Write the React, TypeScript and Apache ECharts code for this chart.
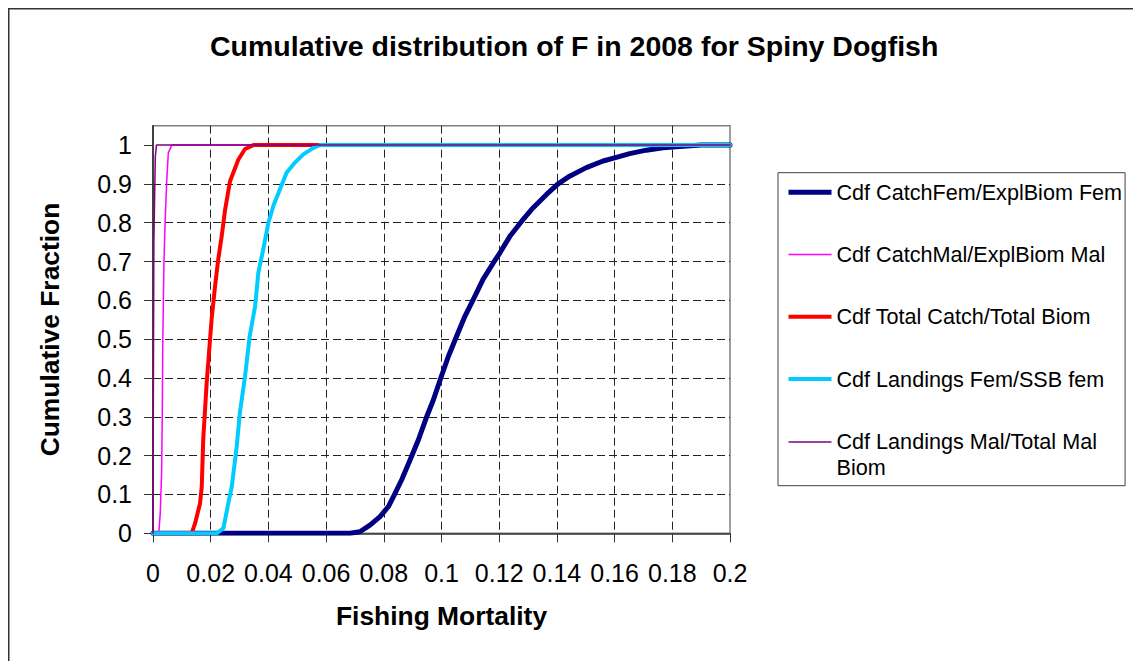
import React, { useEffect, useRef } from "react";
import * as echarts from "echarts";

const TITLE = "Cumulative distribution of F in 2008 for Spiny Dogfish";
const X_NAME = "Fishing Mortality";
const Y_NAME = "Cumulative Fraction";

const seriesNames = [
  "Cdf CatchFem/ExplBiom Fem",
  "Cdf CatchMal/ExplBiom Mal",
  "Cdf Total Catch/Total Biom",
  "Cdf Landings Fem/SSB fem",
  "Cdf Landings Mal/Total Mal Biom",
];
const seriesColors = ["#000080", "#FF00FF", "#FF0000", "#00CCFF", "#800080"];
const seriesWidths = [5, 1.5, 4, 4, 1.5];

const xTickLabels = ["0", "0.02", "0.04", "0.06", "0.08", "0.1", "0.12", "0.14", "0.16", "0.18", "0.2"];
const yTickLabels = ["0", "0.1", "0.2", "0.3", "0.4", "0.5", "0.6", "0.7", "0.8", "0.9", "1"];

// Cdf CatchFem/ExplBiom Fem
const catchFemX = [0, 0.0683, 0.0717, 0.0752, 0.0787, 0.0816, 0.0839, 0.0862, 0.0891, 0.092, 0.0949, 0.0972, 0.0996, 0.1024, 0.1052, 0.1081, 0.111, 0.1144, 0.118, 0.1202, 0.1237, 0.1278, 0.1317, 0.1364, 0.1402, 0.1444, 0.1502, 0.156, 0.16, 0.1652, 0.171, 0.1768, 0.1837, 0.19, 0.2];
const catchFemY = [0, 0, 0.004, 0.021, 0.043, 0.069, 0.103, 0.138, 0.189, 0.241, 0.301, 0.344, 0.397, 0.456, 0.507, 0.559, 0.602, 0.654, 0.697, 0.722, 0.765, 0.804, 0.838, 0.873, 0.899, 0.92, 0.942, 0.959, 0.967, 0.978, 0.987, 0.993, 0.997, 1, 1];

// Cdf CatchMal/ExplBiom Mal
const catchMalX = [0, 0.002, 0.0025, 0.003, 0.0032, 0.0034, 0.0036, 0.0038, 0.0042, 0.0047, 0.0053, 0.0065, 0.2];
const catchMalY = [0, 0, 0.05, 0.16, 0.3, 0.5, 0.6, 0.7, 0.8, 0.9, 0.98, 1, 1];

// Cdf Total Catch/Total Biom
const totalX = [0, 0.0134, 0.0146, 0.0163, 0.0169, 0.0174, 0.0186, 0.0194, 0.0203, 0.0215, 0.0226, 0.0238, 0.025, 0.0267, 0.0296, 0.0319, 0.0348, 0.2];
const totalY = [0, 0, 0.026, 0.077, 0.12, 0.24, 0.387, 0.464, 0.55, 0.636, 0.705, 0.765, 0.834, 0.907, 0.963, 0.99, 1, 1];

// Cdf Landings Fem/SSB fem
const landFemX = [0, 0.0221, 0.0244, 0.0261, 0.0273, 0.029, 0.0301, 0.0319, 0.0335, 0.0354, 0.0365, 0.0382, 0.04, 0.0417, 0.044, 0.0463, 0.0492, 0.0521, 0.0556, 0.0579, 0.2];
const landFemY = [0, 0, 0.013, 0.077, 0.12, 0.223, 0.31, 0.404, 0.507, 0.585, 0.671, 0.731, 0.8, 0.843, 0.886, 0.929, 0.955, 0.976, 0.993, 1, 1];

// Cdf Landings Mal/Total Mal Biom
const landMalX = [0, 0.0001, 0.0003, 0.0008, 0.0012, 0.2];
const landMalY = [0, 0.3, 0.75, 0.97, 1, 1];

const seriesXs = [catchFemX, catchMalX, totalX, landFemX, landMalX];
const seriesYs = [catchFemY, catchMalY, totalY, landFemY, landMalY];

const FONT = "'Liberation Sans', Arial, Helvetica, sans-serif";

export default function App() {
  const ref = useRef<HTMLDivElement>(null);

  useEffect(() => {
    if (!ref.current) return;
    const chart = echarts.init(ref.current, undefined, { renderer: "svg" });

    const series = seriesNames.map((name, i) => ({
      name,
      type: "line",
      data: seriesXs[i].map((x, j) => [x, seriesYs[i][j]]),
      symbol: "none",
      showSymbol: false,
      smooth: false,
      lineStyle: {
        color: seriesColors[i],
        width: seriesWidths[i],
        cap: "round",
        join: "round",
      },
      itemStyle: { color: seriesColors[i] },
      z: 3,
    }));

    const lastName = seriesNames[seriesNames.length - 1];

    chart.setOption({
      animation: false,
      backgroundColor: "#ffffff",
      title: {
        text: TITLE,
        left: 210,
        top: 31,
        padding: 0,
        textStyle: { fontFamily: FONT, fontSize: 28.5, fontWeight: "bold", color: "#000" },
      },
      grid: {
        left: 153,
        top: 125.7,
        right: 403,
        bottom: 127.7,
        show: true,
        borderColor: "#808080",
        borderWidth: 1.5,
        backgroundColor: "transparent",
        containLabel: false,
      },
      legend: {
        orient: "vertical",
        left: 778,
        top: 172.7,
        padding: [8.5, 3, 6.8, 8],
        itemGap: 40.3,
        itemWidth: 43,
        itemHeight: 20,
        borderColor: "#404040",
        borderWidth: 1,
        backgroundColor: "#fff",
        itemStyle: { opacity: 0, borderWidth: 0 },
        data: seriesNames.map((name, i) => ({
          name,
          lineStyle: { width: seriesWidths[i], color: seriesColors[i], cap: "butt" },
        })),
        formatter: (name: string) => {
          if (name === lastName) {
            return "{a|Cdf Landings Mal/Total Mal}\n{b|Biom}";
          }
          return name;
        },
        textStyle: {
          fontFamily: FONT,
          fontSize: 21.6,
          color: "#000",
          rich: {
            a: { fontFamily: FONT, fontSize: 21.6, color: "#000", lineHeight: 52 },
            b: { fontFamily: FONT, fontSize: 21.6, color: "#000", lineHeight: 1 },
          },
        },
      },
      xAxis: {
        type: "value",
        min: 0,
        max: 0.2,
        interval: 0.02,
        name: X_NAME,
        nameLocation: "middle",
        nameGap: 70,
        nameTextStyle: { fontFamily: FONT, fontSize: 26.4, fontWeight: "bold", color: "#000" },
        axisLine: { show: true, onZero: false, lineStyle: { color: "#333", width: 1.5 } },
        axisTick: { show: true, length: 9, lineStyle: { color: "#333", width: 1 } },
        axisLabel: {
          margin: 27,
          fontFamily: FONT,
          fontSize: 25,
          color: "#000",
          formatter: (v: number) => xTickLabels[Math.round(v / 0.02)] ?? "",
        },
        splitLine: {
          show: true,
          showMinLine: false,
          showMaxLine: false,
          lineStyle: { color: "#222", width: 1, type: [8, 4] },
        },
      },
      yAxis: {
        type: "value",
        min: 0,
        max: 1.05,
        interval: 0.1,
        name: Y_NAME,
        nameLocation: "middle",
        nameGap: 90,
        nameTextStyle: { fontFamily: FONT, fontSize: 26.4, fontWeight: "bold", color: "#000" },
        axisLine: { show: true, onZero: false, lineStyle: { color: "#222", width: 1.5 } },
        axisTick: {
          show: true,
          length: 9,
          lineStyle: { color: "#333", width: 1 },
          customValues: [0, 0.1, 0.2, 0.3, 0.4, 0.5, 0.6, 0.7, 0.8, 0.9, 1],
        },
        axisLabel: {
          margin: 21,
          fontFamily: FONT,
          fontSize: 25,
          color: "#000",
          formatter: (v: number) => (v > 1.001 ? "" : yTickLabels[Math.round(v * 10)] ?? ""),
        },
        splitLine: {
          show: true,
          showMinLine: false,
          showMaxLine: false,
          lineStyle: { color: "#222", width: 1, type: [8, 4] },
        },
      },
      graphic: [
        {
          type: "polyline",
          silent: true,
          z: -10,
          shape: { points: [[8.75, 661], [8.75, 8.75], [1133, 8.75]] },
          style: { fill: "none", stroke: "#333", lineWidth: 1.5 },
        },
      ],
      series,
    });

    return () => {
      chart.dispose();
    };
  }, []);

  return (
    <div
      ref={ref}
      style={{ position: "absolute", left: 0, top: 0, width: 1133, height: 661 }}
    />
  );
}
